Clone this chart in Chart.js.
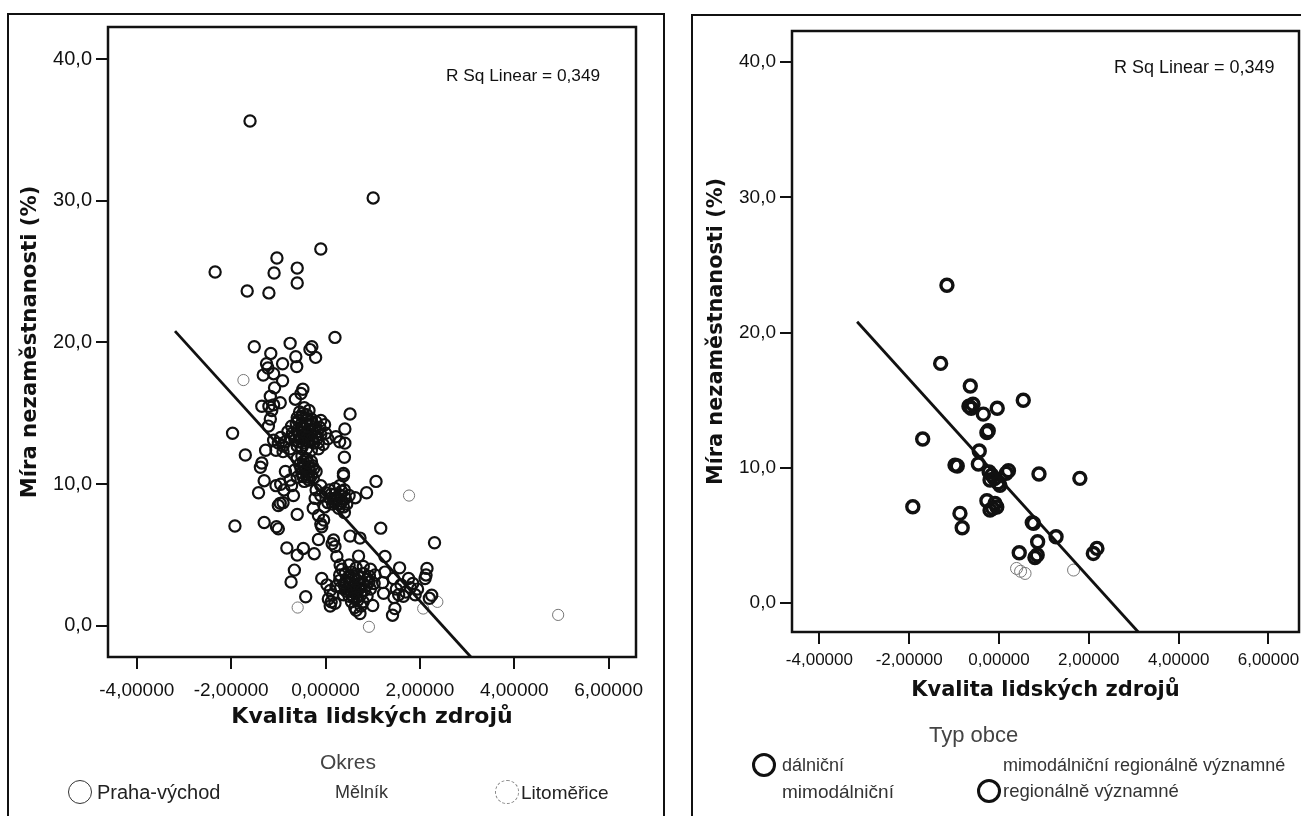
<!DOCTYPE html>
<html>
<head>
<meta charset="utf-8">
<title>Kvalita lidských zdrojů</title>
<script src="https://cdn.jsdelivr.net/npm/chart.js@4"></script>
<style>
html,body{margin:0;padding:0;background:#fff;overflow:hidden}
#page{position:relative;width:1301px;height:816px;overflow:hidden;font-family:"Liberation Sans",sans-serif;color:#111}
canvas{position:absolute;top:0}
.frame{position:absolute;border:2px solid #111;border-bottom:none;box-sizing:border-box}
.t{position:absolute;white-space:nowrap;line-height:1;transform:translateY(-50%)}
.ring{position:absolute;border-radius:50%;box-sizing:border-box;transform:translate(-50%,-50%)}
</style>
</head>
<body>
<div id="page">
<div class="frame" style="left:7px;top:13px;width:658px;height:803px"></div>
<div class="frame" style="left:691px;top:14px;width:640px;height:802px"></div>
<canvas id="leftChart" width="660" height="816" style="left:0"></canvas>
<canvas id="rightChart" width="640" height="816" style="left:680px"></canvas>

<div class="t" style="left:446px;top:76px;font-size:17.3px">R Sq Linear = 0,349</div>
<div class="t" style="left:1114px;top:67px;font-size:18px">R Sq Linear = 0,349</div>

<div class="t" style="left:320px;top:761px;font-size:21px;color:#444">Okres</div>
<div class="ring" style="left:80px;top:792px;width:24px;height:24px;border:1px solid #333"></div>
<div class="t" style="left:97px;top:792px;font-size:20px;color:#222">Praha-východ</div>
<div class="t" style="left:335px;top:792px;font-size:18px;color:#333">Mělník</div>
<div class="ring" style="left:507px;top:792px;width:24px;height:24px;border:1px dashed #888"></div>
<div class="t" style="left:521px;top:792px;font-size:19px;color:#222">Litoměřice</div>

<div class="t" style="left:929px;top:735px;font-size:22px;color:#444">Typ obce</div>
<div class="ring" style="left:764px;top:765px;width:24px;height:24px;border:3px solid #111"></div>
<div class="t" style="left:782px;top:765px;font-size:18px;color:#333">dálniční</div>
<div class="t" style="left:1003px;top:765px;font-size:18px;color:#333">mimodálniční regionálně významné</div>
<div class="t" style="left:782px;top:791px;font-size:19px;color:#333">mimodálniční</div>
<div class="ring" style="left:989px;top:791px;width:24px;height:24px;border:3px solid #111"></div>
<div class="t" style="left:1003px;top:791px;font-size:18.5px;color:#333">regionálně významné</div>
</div>

<script>
const xTicks = [-4,-2,0,2,4,6]
const yTicks = [0,10,20,30,40]

const leftPraha = [
[-1.60,35.63],[1.01,30.2],[-0.10,26.6],[-1.03,25.96],[-1.09,24.9],[-0.60,25.25],[-0.60,24.2],[-2.34,24.97],[-1.66,23.63],[-1.20,23.5],
[0.20,20.36],[-0.75,19.94],[-1.51,19.7],[-0.29,19.7],[-0.33,19.5],[-0.21,18.95],[-1.16,19.23],[-0.63,19.0],[-0.61,18.3],[-1.25,18.5],[-1.22,18.2],[-0.91,18.5],
[-1.32,17.7],[-1.10,17.8],[-0.91,17.3],[-1.08,16.8],[-0.48,16.7],[-0.52,16.4],[-1.17,16.2],[-0.64,16.0],[-1.35,15.5],[-0.96,15.75],[-1.14,15.2],[-1.20,15.5],[-1.10,15.6],[-1.17,14.6],[-1.21,14.1],
[0.52,14.95],[0.41,13.9],[0.22,13.35],[0.41,12.9],[0.30,13.0],[-1.97,13.6],[-1.70,12.06],[0.40,11.9],[0.38,10.76],[0.38,10.6],[1.07,10.2],[0.87,9.4],[0.63,9.05],
[-1.92,7.05],[-1.30,7.3],[-1.0,6.85],[-1.04,7.0],[-0.6,7.87],[1.17,6.9],[2.31,5.87],[-0.82,5.5],[-0.47,5.47],[-0.60,5.0],[-0.24,5.1],[-0.15,6.1],[-0.66,3.94],[-0.73,3.1],[-0.42,2.06],
[-0.08,3.35],[0.03,2.9],[0.73,0.88],[0.65,1.1],[1.0,1.44],[1.42,0.76],[1.47,1.23],[2.15,4.06],[2.11,3.35],[2.13,3.6],[2.25,2.17],[2.20,1.95],
[1.57,4.1],[1.76,3.35],[1.26,4.9],[1.26,3.8],[1.21,3.07],[1.23,2.3],[1.44,3.35],[0.70,4.93],[0.52,6.34],[0.73,6.2],[0.17,6.06],[0.2,5.6],[0.14,5.8],[0.24,4.9],[0.31,4.3],
[-0.08,7.0],[-0.04,7.47],[-0.10,7.2],[-0.26,8.3],[-0.15,7.8],
[-0.45,15.4],[-0.55,15.1],[-0.35,15.2],[-0.6,14.7],[-0.5,14.8],[-0.4,14.9],[-0.3,14.6],[-0.2,14.4],[-0.1,14.5],[-0.72,14.1],[-0.62,14.3],[-0.52,14.2],[-0.42,14.3],[-0.32,14.1],[-0.22,13.9],[-0.12,14.0],[-0.02,14.2],
[-0.8,13.7],[-0.7,13.6],[-0.6,13.8],[-0.5,13.7],[-0.4,13.6],[-0.3,13.5],[-0.2,13.4],[-0.1,13.5],[0.0,13.6],[0.05,13.2],[-0.75,13.2],[-0.65,13.1],[-0.55,13.2],[-0.45,13.1],[-0.35,13.0],[-0.25,12.9],[-0.15,12.95],[-0.05,12.8],[-0.5,12.6],[-0.4,12.5],[-0.3,12.4],[-0.15,12.5],[-0.6,12.7],
[-0.48,15.0],[-0.38,14.6],[-0.58,14.5],[-0.28,14.3],[-0.47,14.0],[-0.36,13.8],[-0.56,13.5],[-0.27,13.7],[-0.46,13.4],[-0.17,13.7],[-0.66,13.4],[-0.38,13.3],[-0.28,13.2],[-0.48,12.9],[-0.18,13.2],[-0.58,13.0],
[-1.1,13.1],[-1.0,12.9],[-0.9,12.7],[-0.95,13.3],[-0.85,13.0],[-1.05,12.4],[-0.9,12.3],[-0.75,12.5],[-1.27,12.4],
[-0.6,11.8],[-0.5,12.0],[-0.4,11.8],[-0.3,11.6],[-0.55,11.4],[-0.45,11.3],[-0.35,11.2],[-0.25,11.1],[-0.65,11.0],[-0.5,10.8],[-0.4,10.7],[-0.3,10.6],[-0.6,10.5],[-0.45,10.2],[-0.35,10.3],[-0.2,10.9],[-0.75,10.3],[-0.85,10.9],
[-0.52,11.1],[-0.42,11.0],[-0.33,10.9],[-0.48,10.55],[-0.38,10.5],[-0.28,11.3],[-0.47,11.6],[-0.37,11.5],[-0.26,10.4],
[-0.95,10.0],[-1.05,9.9],[-0.88,9.6],[-0.72,9.9],[-0.68,9.2],[-0.96,8.65],[-1.0,8.5],[-0.9,8.7],[-1.3,10.25],[-1.42,9.4],[-1.35,11.5],[-1.38,11.2],
[-0.1,9.9],[-0.2,9.6],[0.0,9.4],[-0.1,9.2],[-0.22,9.0],[0.1,9.0],[0.2,9.3],[0.3,9.9],[0.4,9.6],[0.5,9.2],[0.05,8.7],[0.15,8.6],[0.25,8.9],[0.35,8.8],[0.45,8.6],[0.28,8.3],[0.38,8.4],[0.4,8.0],[0.2,9.7],[-0.02,8.4],
[0.12,9.3],[0.22,9.0],[0.32,9.2],[0.42,9.0],[0.18,8.75],[0.3,8.6],[0.08,9.6],[0.34,9.5],
[0.35,4.0],[0.5,4.3],[0.65,4.1],[0.8,4.2],[0.95,4.0],[0.3,3.6],[0.42,3.7],[0.55,3.8],[0.68,3.6],[0.8,3.7],[0.93,3.5],[1.05,3.6],[0.3,3.2],[0.42,3.1],[0.55,3.3],[0.68,3.2],[0.8,3.0],[0.92,3.1],[1.03,3.0],
[0.32,2.7],[0.45,2.6],[0.58,2.8],[0.7,2.6],[0.82,2.5],[0.95,2.6],[0.38,2.2],[0.5,2.1],[0.62,2.3],[0.75,2.2],[0.88,2.1],[0.55,1.7],[0.68,1.8],[0.8,1.7],[0.62,1.3],[0.75,1.4],
[0.48,3.4],[0.6,3.5],[0.72,3.4],[0.5,3.0],[0.62,2.95],[0.74,2.9],[0.86,2.8],[0.4,2.85],[0.52,2.5],[0.64,2.55],[0.76,2.45],[0.56,2.2],[0.68,2.05],[0.44,2.45],[0.9,3.3],[0.6,1.95],
[0.1,1.4],[0.12,1.7],[0.06,1.9],[0.15,2.2],[0.1,2.5],[0.22,2.8],[0.2,1.6],
[1.5,2.6],[1.6,2.9],[1.7,2.4],[1.8,2.7],[1.9,2.2],[1.65,2.1],[1.55,2.2],[1.85,3.0],[1.45,2.0],[1.95,2.6]
]
const leftLitomerice = [[-1.74,17.35],[0.92,-0.06],[-0.59,1.3],[4.93,0.78],[1.77,9.2],[2.37,1.7],[2.07,1.23]]
const leftLine = [[-3.19,20.8],[3.08,-2.19]]

const rightObce = [
[-1.16,23.5],[-1.30,17.72],[-0.64,16.05],[0.54,15.0],[-0.67,14.55],[-0.58,14.7],[-0.62,14.4],[-0.04,14.4],[-0.35,13.97],[-0.24,12.74],[-0.27,12.6],[-1.70,12.13],
[-0.44,11.24],[-0.46,10.28],[-0.93,10.13],[-0.98,10.2],[0.21,9.78],[0.16,9.6],[0.89,9.54],[1.80,9.22],[-0.16,9.46],[-0.22,9.7],[-0.20,9.1],[-0.10,9.2],[0.02,8.7],[-0.02,8.9],
[-1.92,7.12],[-0.27,7.57],[-0.09,7.37],[-0.2,6.87],[-0.05,7.1],[-0.14,7.0],[-0.87,6.63],[-0.82,5.57],[0.77,5.89],[0.74,5.95],[1.27,4.9],[0.86,4.53],[0.80,3.37],[0.85,3.55],[0.45,3.72],[2.18,4.04],[2.10,3.67]
]
const rightBroken = [[1.66,2.44],[0.39,2.56],[0.58,2.19],[0.48,2.35]]
const rightLine = [[-3.16,20.8],[3.10,-2.14]]

const toPoints = list => list.map(p => ({x:p[0], y:p[1]}))

// black frame round the plot area
const boxPlugin = {
id:"box",
afterDraw(chart){
const a = chart.chartArea
const ctx = chart.ctx
ctx.save()
ctx.strokeStyle = "#111"
ctx.lineWidth = 2.5
ctx.strokeRect(a.left, a.top, a.right - a.left, a.bottom - a.top)
ctx.restore()
}
}

function makeChart(id, cfg){
new Chart(document.getElementById(id), {
type:"scatter",
plugins:[boxPlugin],
data:{
datasets:[
{data:toPoints(cfg.line), showLine:true, pointRadius:0, borderColor:"#111", borderWidth:2.8},
{data:toPoints(cfg.main), pointRadius:cfg.radius, borderWidth:cfg.ring, borderColor:"#111", backgroundColor:"rgba(255,255,255,0)"},
{data:toPoints(cfg.faint), pointRadius:cfg.radius, borderWidth:1, borderColor:"#777", backgroundColor:"rgba(255,255,255,0)"}
]
},
options:{
responsive:false,
animation:false,
layout:{padding:cfg.padding},
plugins:{legend:{display:false}, tooltip:{enabled:false}},
scales:{
x:{
type:"linear",
min:-4.61,
max:cfg.xMax,
afterBuildTicks(scale){ scale.ticks = xTicks.map(v => ({value:v})) },
afterFit(scale){ scale.height = cfg.xHeight },
border:{display:false},
grid:{drawOnChartArea:false, color:"#111", lineWidth:2, tickLength:12},
ticks:{
color:"#111",
padding:cfg.xTickPad,
maxRotation:0,
autoSkip:false,
font:{family:"Liberation Sans", size:cfg.xFont},
callback:v => v.toFixed(5).replace(".",",")
},
title:{display:true, text:"Kvalita lidských zdrojů", color:"#111", padding:0, font:{family:"DejaVu Sans", weight:"bold", size:cfg.xTitle}}
},
y:{
type:"linear",
min:cfg.yMin,
max:cfg.yMax,
afterBuildTicks(scale){ scale.ticks = yTicks.map(v => ({value:v})) },
afterFit(scale){ scale.width = cfg.yWidth },
border:{display:false},
grid:{drawOnChartArea:false, color:"#111", lineWidth:2, tickLength:12},
ticks:{
color:"#111",
padding:4,
autoSkip:false,
font:{family:"Liberation Sans", size:cfg.yFont},
callback:v => v.toFixed(1).replace(".",",")
},
title:{display:true, text:"Míra nezaměstnanosti (%)", color:"#111", padding:0, font:{family:"DejaVu Sans", weight:"bold", size:cfg.yTitle}}
}
}
}
})
}

makeChart("leftChart", {
main:leftPraha, faint:leftLitomerice, line:leftLine,
radius:5.6, ring:2.2,
xMax:6.58, yMin:-2.19, yMax:42.26,
padding:{top:27, left:18, right:24, bottom:86},
yWidth:90, xHeight:73, xTickPad:10, xFont:19, yFont:20, xTitle:22, yTitle:21.2
})

makeChart("rightChart", {
main:rightObce, faint:rightBroken, line:rightLine,
radius:6, ring:3.4,
xMax:6.68, yMin:-2.14, yMax:42.3,
padding:{top:31, left:24, right:21, bottom:113},
yWidth:88, xHeight:71, xTickPad:6, xFont:17, yFont:19, xTitle:21, yTitle:20.8
})
</script>
</body>
</html>
